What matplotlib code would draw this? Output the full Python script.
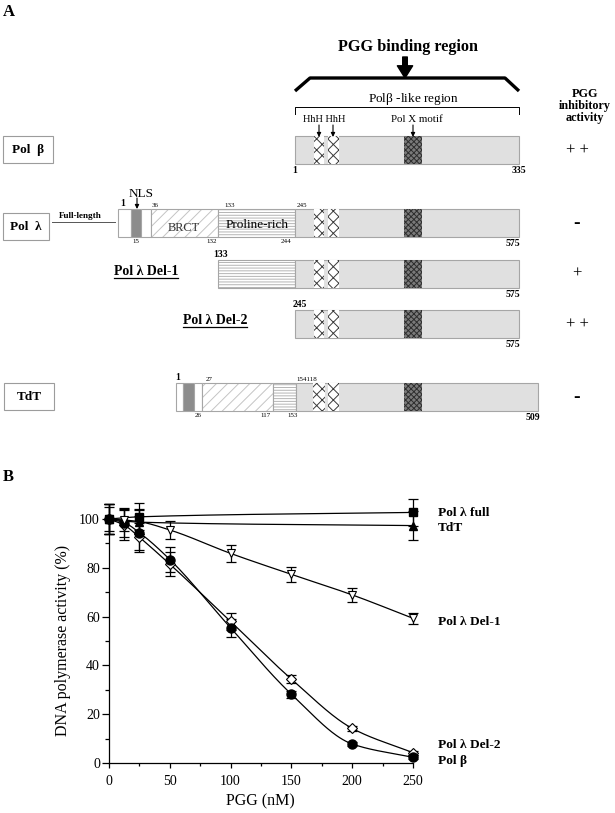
import numpy as np
import matplotlib
matplotlib.use('Agg')
import matplotlib.pyplot as plt
from matplotlib.patches import Rectangle

plt.rcParams['font.family'] = ['Liberation Serif', 'DejaVu Serif']
plt.rcParams['hatch.linewidth'] = 0.7

# ---------------- panel B data (PGG dose response) ----------------
pgg = [0, 12.5, 25, 50, 100, 150, 200, 250]
pol_beta = [100, 98.5, 94.4, 83.4, 55.4, 28.2, 7.8, 2.3]
pol_beta_err = [6, 6, 7, 5, 3.6, 1.5, 1.0, 0.8]
del2 = [100, 97.5, 92.5, 81.5, 58.0, 34.4, 14.2, 4.2]
del2_err = [6, 6, 6, 5, 3.5, 1.6, 1.0, 0.8]
del1 = [100, 99.6, 98.9, 95.5, 85.9, 77.3, 68.9, 59.3]
del1_err = [6, 4.5, 5, 3.5, 3.4, 3.0, 2.9, 2.2]
full_pgg = [0, 25, 250]
full = [100, 100.9, 102.7]
full_err = [6, 5.5, 5.5]
tdt_pgg = [0, 25, 250]
tdt = [100, 98.7, 97.3]
tdt_err = [5, 5, 5.9]

# ---------------- panel A data (domains, residue numbers) ----------------
beta_domains = [('core', 1, 335)]
beta_hhh = [(29, 44), (50, 67)]
beta_polx = (164, 190)

lam_domains = [('white', 1, 14), ('nls', 15, 24), ('white', 25, 35),
               ('brct', 36, 132), ('pro', 133, 244), ('core', 245, 575)]
del1_domains = [('pro', 133, 244), ('core', 245, 575)]
del2_domains = [('core', 245, 575)]
lam_hhh = [(273, 288), (294, 310)]
lam_polx = (406, 432)

tdt_domains = [('white', 1, 7), ('nls', 8, 18), ('white', 19, 26),
               ('brct', 27, 117), ('pro', 118, 153), ('core', 154, 509)]
tdt_hhh = [(179, 197), (201, 217)]
tdt_polx = (312, 339)

activity = ['+ +', '-', '+', '+ +', '-']

# ---------------- layout (pixel space of the 615x813 figure) ----------------
# residue -> pixel anchors for each row (schematic, not to scale)
rows = [
    dict(dom=beta_domains, hhh=beta_hhh, polx=beta_polx, res=[1, 335], px=[295, 519], top=136,
         labels=[('1', 1, 'below', 0, True), ('335', 335, 'below', 0, True)]),
    dict(dom=lam_domains, hhh=lam_hhh, polx=lam_polx, res=[1, 36, 133, 245, 575],
         px=[118, 151, 218, 295, 519], top=209,
         labels=[('1', 1, 'above', 5, True), ('36', 36, 'above', 4, False),
                 ('133', 133, 'above', 12, False), ('245', 245, 'above', 7, False),
                 ('15', 15, 'below', 5, False), ('132', 132, 'below', -6, False),
                 ('244', 244, 'below', -8, False), ('575', 575, 'below', -6, True)]),
    dict(dom=del1_domains, hhh=lam_hhh, polx=lam_polx, res=[133, 245, 575], px=[218, 295, 519], top=260,
         labels=[('133', 133, 'above', 3, True), ('575', 575, 'below', -6, True)]),
    dict(dom=del2_domains, hhh=lam_hhh, polx=lam_polx, res=[245, 575], px=[295, 519], top=310,
         labels=[('245', 245, 'above', 5, True), ('575', 575, 'below', -6, True)]),
    dict(dom=tdt_domains, hhh=tdt_hhh, polx=tdt_polx, res=[1, 27, 118, 154, 509],
         px=[176, 202, 273, 296, 538], top=383,
         labels=[('1', 1, 'above', 2, True), ('27', 27, 'above', 7, False),
                 ('154118', 154, 'above', 11, False), ('26', 26, 'below', -3, False),
                 ('117', 117, 'below', -7, False), ('153', 153, 'below', -3, False),
                 ('509', 509, 'below', -5, True)]),
]
BAR_H = 28

styles = {
    'core': dict(fc='#e0e0e0', hatch=None, hc=None),
    'white': dict(fc='white', hatch=None, hc=None),
    'nls': dict(fc='#8c8c8c', hatch=None, hc=None),
    'brct': dict(fc='white', hatch='///', hc='#c4c4c4'),
    'pro': dict(fc='white', hatch='------', hc='#b4b4b4'),
    'hhh': dict(fc='white', hatch='xxx', hc='#3a3a3a'),
    'polx': dict(fc='#7a7a7a', hatch='xxxxxx', hc='#2e2e2e'),
}


def block(ax, x0, x1, y, kind, outline=True):
    s = styles[kind]
    ax.add_patch(Rectangle((x0, y), x1 - x0, BAR_H, facecolor=s['fc'],
                           edgecolor=s['hc'] if s['hatch'] else 'none',
                           hatch=s['hatch'], lw=0))
    if outline:
        ax.add_patch(Rectangle((x0, y), x1 - x0, BAR_H, fill=False,
                               edgecolor='#a6a6a6', lw=0.8))


def arrow(ax, x, y0, y1, lw=0.8, ms=6):
    ax.annotate('', xy=(x, y1), xytext=(x, y0),
                arrowprops=dict(arrowstyle='-|>', color='k', lw=lw,
                                mutation_scale=ms, shrinkA=0, shrinkB=0))


def pchip(x, y, n=200):
    x = np.asarray(x, float)
    y = np.asarray(y, float)
    h = np.diff(x)
    d = np.diff(y) / h
    m = np.zeros_like(y)
    m[0], m[-1] = d[0], d[-1]
    for k in range(1, len(x) - 1):
        if d[k - 1] * d[k] > 0:
            w1, w2 = 2 * h[k] + h[k - 1], h[k] + 2 * h[k - 1]
            m[k] = (w1 + w2) / (w1 / d[k - 1] + w2 / d[k])
    xs = np.linspace(x[0], x[-1], n)
    k = np.clip(np.searchsorted(x, xs) - 1, 0, len(h) - 1)
    t = (xs - x[k]) / h[k]
    ys = ((2 * t**3 - 3 * t**2 + 1) * y[k] + (t**3 - 2 * t**2 + t) * h[k] * m[k]
          + (-2 * t**3 + 3 * t**2) * y[k + 1] + (t**3 - t**2) * h[k] * m[k + 1])
    return xs, ys


fig = plt.figure(figsize=(6.15, 8.13), dpi=100)
ax = fig.add_axes([0, 0, 1, 1])
ax.set_xlim(0, 615)
ax.set_ylim(813, 0)
ax.axis('off')

ax.text(3, 12, 'A', fontsize=12, fontweight='bold', va='center')
ax.text(3, 477, 'B', fontsize=12, fontweight='bold', va='center')

# PGG binding region header
ax.text(408, 47, 'PGG binding region', fontsize=11.7, fontweight='bold', ha='center', va='center')
ax.annotate('', xy=(405, 78), xytext=(405, 57),
            arrowprops=dict(arrowstyle='simple,head_width=1.0,head_length=0.8,tail_width=0.3',
                            color='k', mutation_scale=11, shrinkA=0, shrinkB=0))
ax.plot([295, 310, 505, 519], [91, 78, 78, 91], color='k', lw=2.4, solid_capstyle='butt')
ax.text(413, 99, r'Pol$\mathregular{\beta}$ -like region', fontsize=9.5, ha='center', va='center')
ax.plot([295, 295, 519, 519], [114, 107, 107, 114], color='k', lw=0.7)
ax.text(324, 120, 'HhH HhH', fontsize=7.5, ha='center', va='center')
arrow(ax, 319, 125, 137)
arrow(ax, 333, 125, 137)
ax.text(417, 120, 'Pol X motif', fontsize=7.8, ha='center', va='center')
arrow(ax, 413, 125, 137)
ax.text(585, 106, 'PGG\ninhibitory\nactivity', fontsize=8.7, fontweight='bold',
        ha='center', va='center', linespacing=0.95)

# protein bars
for row in rows:
    top = row['top']
    to_px = lambda r, row=row: np.interp(r, row['res'], row['px'])
    for kind, r0, r1 in row['dom']:
        block(ax, to_px(r0), to_px(r1 + 1) if r1 != row['res'][-1] else to_px(r1), top, kind)
    for r0, r1 in row['hhh']:
        block(ax, to_px(r0), to_px(r1), top, 'hhh', outline=False)
    block(ax, to_px(row['polx'][0]), to_px(row['polx'][1]), top, 'polx', outline=False)
    for txt, r, side, dx, bold in row['labels']:
        y = top - 1.5 if side == 'above' else top + BAR_H + 2
        ax.text(to_px(r) + dx, y, txt, fontsize=7 if bold else 5,
                fontweight='bold' if bold else 'normal', ha='center',
                va='bottom' if side == 'above' else 'top')

# row annotations
for y, sym in zip([r['top'] + BAR_H / 2 for r in rows], activity):
    ax.text(577, y, sym, fontsize=14 if sym == '-' else 12,
            fontweight='bold' if sym == '-' else 'normal', ha='center', va='center')

for (x0, y0, w, lab) in [(3, 136, 50, 'Pol  β'), (3, 213, 46, 'Pol  λ'), (4, 383, 50, 'TdT')]:
    ax.add_patch(Rectangle((x0, y0), w, 27, fill=False, edgecolor='#9c9c9c', lw=0.8))
    ax.text(x0 + w / 2, y0 + 14, lab, fontsize=9.5, fontweight='bold', ha='center', va='center')

ax.text(80, 216, 'Full-length', fontsize=6.6, fontweight='bold', ha='center', va='center')
ax.plot([52, 115], [222, 222], color='#555555', lw=0.7)
ax.text(141, 194, 'NLS', fontsize=9.5, ha='center', va='center')
arrow(ax, 137, 198, 209)
ax.text(184, 228, 'BRCT', fontsize=8.8, color='#333333', ha='center', va='center')
ax.text(257, 225, 'Proline-rich', fontsize=9.5, ha='center', va='center')

del_labels = [ax.text(146, 271, 'Pol λ Del-1', fontsize=10, fontweight='bold', ha='center', va='center'),
              ax.text(215, 320, 'Pol λ Del-2', fontsize=10, fontweight='bold', ha='center', va='center')]

# ---------------- panel B ----------------
axb = fig.add_axes([109 / 615, 50 / 813, 304 / 615, 268.4 / 813])
axb.set_xlim(0, 250)
axb.set_ylim(0, 110)
for s in ['top', 'right']:
    axb.spines[s].set_visible(False)
axb.spines['left'].set_bounds(0, 100)
axb.spines['bottom'].set_bounds(0, 250)
for s in ['left', 'bottom']:
    axb.spines[s].set_linewidth(0.9)

series = [
    (pgg, del2, del2_err, dict(marker='D', ms=4.6, mfc='white', mec='k', mew=0.8)),
    (pgg, pol_beta, pol_beta_err, dict(marker='o', ms=6.5, mfc='k', mec='k')),
    (pgg, del1, del1_err, dict(marker='v', ms=6, mfc='white', mec='k', mew=0.8)),
    (tdt_pgg, tdt, tdt_err, dict(marker='^', ms=6, mfc='k', mec='k')),
    (full_pgg, full, full_err, dict(marker='s', ms=6, mfc='k', mec='k')),
]
for x, y, e, st in series:
    xs, ys = pchip(x, y)
    axb.plot(xs, ys, color='k', lw=0.9, clip_on=False)
    axb.errorbar(x, y, yerr=e, fmt='none', ecolor='k', elinewidth=0.9, capsize=3.6,
                 capthick=0.9, clip_on=False)
    axb.plot(x, y, ls='none', clip_on=False, zorder=4, **st)

axb.set_xticks(range(0, 251, 50))
axb.set_xticks(range(25, 250, 50), minor=True)
axb.set_yticks(range(0, 101, 20))
axb.set_yticks(range(10, 100, 20), minor=True)
axb.tick_params(axis='x', which='major', length=3.6, width=0.9, pad=5, labelsize=10)
axb.tick_params(axis='x', which='minor', length=2, width=0.9)
axb.tick_params(axis='y', which='major', length=5, width=0.9, pad=1.5, labelsize=10)
axb.tick_params(axis='y', which='minor', length=3, width=0.9)
axb.set_xlabel('PGG (nM)', fontsize=11.5)
axb.set_ylabel('DNA polymerase activity (%)', fontsize=11.5)
axb.xaxis.set_label_coords(0.497, -0.112)
axb.yaxis.set_label_coords(-0.125, 0.455)

for y, lab in [(513, 'Pol λ full'), (528, 'TdT'), (622, 'Pol λ Del-1'),
               (745, 'Pol λ Del-2'), (761, 'Pol β')]:
    ax.text(438, y, lab, fontsize=9.6, fontweight='bold', ha='left', va='center')

# underline the deletion mutant names
fig.canvas.draw()
inv = ax.transData.inverted()
for t in del_labels:
    bb = t.get_window_extent()
    (x0, y0), (x1, _) = inv.transform([(bb.x0, bb.y0), (bb.x1, bb.y1)])
    ax.plot([x0, x1], [y0 + 0.5, y0 + 0.5], color='k', lw=0.9)

fig.savefig('out.png', dpi=100)
